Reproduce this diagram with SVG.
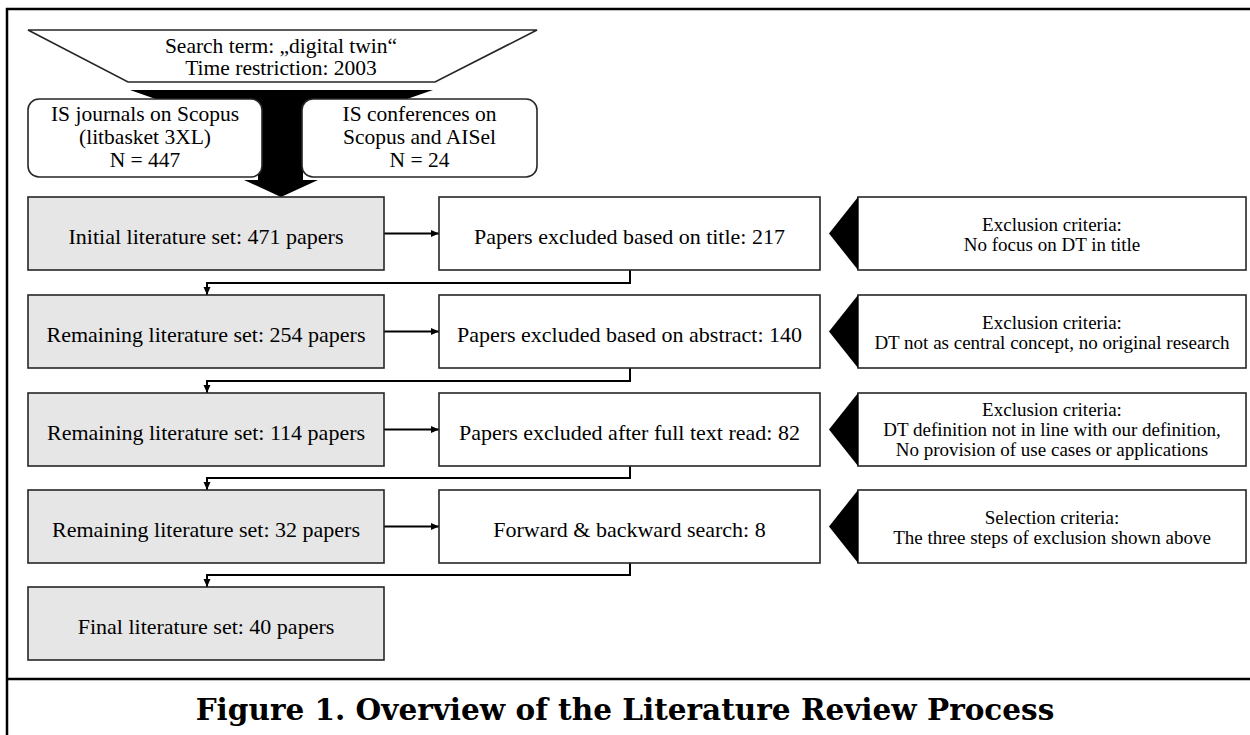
<svg xmlns="http://www.w3.org/2000/svg" width="1250" height="735" viewBox="0 0 1250 735">
<style>
  text { font-family: "Liberation Serif", "DejaVu Serif", serif; fill: #000; }
  .main { font-size: 22px; text-anchor: middle; }
  .top { font-size: 21.5px; text-anchor: middle; }
  .crit { font-size: 19px; text-anchor: middle; }
  .cap { font-family: "DejaVu Serif", "Liberation Serif", serif; font-size: 29.5px; font-weight: bold; text-anchor: middle; }
  .grey { fill: #e6e6e6; stroke: #262626; stroke-width: 1.6; }
  .white { fill: #fff; stroke: #262626; stroke-width: 1.6; }
  .conn { fill: none; stroke: #000; stroke-width: 2; }
  .frame { fill: none; stroke: #000; stroke-width: 2.5; }
</style>
<defs>
  <marker id="ah" markerWidth="8" markerHeight="8" refX="8" refY="4" orient="auto" markerUnits="userSpaceOnUse">
    <path d="M0,0.5 L8,4 L0,7.5 Z" fill="#000"/>
  </marker>
</defs>
<rect x="0" y="0" width="1250" height="735" fill="#fff"/>
<g id="frame">
  <path class="frame" d="M7,735 L7,9 L1250,9"/>
  <path class="frame" d="M7,679 L1250,679"/>
</g>

<g id="funnel">
  <polygon points="130,90 433,90 303,135 303,180 318,180 281,197 244,180 258,180 258,135" fill="#000"/>
</g>
<g id="search">
  <polygon points="28,30 537,30 435,82 128,82" fill="#fff" stroke="#262626" stroke-width="1.6"/>
  <text class="top" x="281" y="53">Search term: „digital twin“</text>
  <text class="top" x="281" y="75">Time restriction: 2003</text>
</g>
<g id="journals">
  <rect x="28" y="99" width="234" height="78" rx="11" ry="11" class="white"/>
  <text class="top" x="145" y="121">IS journals on Scopus</text>
  <text class="top" x="145" y="144">(litbasket 3XL)</text>
  <text class="top" x="145" y="167">N = 447</text>
</g>
<g id="conferences">
  <rect x="302" y="99" width="235" height="78" rx="11" ry="11" class="white"/>
  <text class="top" x="419.5" y="121">IS conferences on</text>
  <text class="top" x="419.5" y="144">Scopus and AISel</text>
  <text class="top" x="419.5" y="167">N = 24</text>
</g>

<g id="connectors">
  <line class="conn" x1="384" y1="233.5" x2="439" y2="233.5" marker-end="url(#ah)"/>
  <line class="conn" x1="384" y1="331.5" x2="439" y2="331.5" marker-end="url(#ah)"/>
  <line class="conn" x1="384" y1="429.5" x2="439" y2="429.5" marker-end="url(#ah)"/>
  <line class="conn" x1="384" y1="526.5" x2="439" y2="526.5" marker-end="url(#ah)"/>
  <polyline class="conn" points="630,270 630,283 207,283 207,295" marker-end="url(#ah)"/>
  <polyline class="conn" points="630,368 630,381 207,381 207,393" marker-end="url(#ah)"/>
  <polyline class="conn" points="630,466 630,478 207,478 207,490" marker-end="url(#ah)"/>
  <polyline class="conn" points="630,563 630,575 207,575 207,587" marker-end="url(#ah)"/>
</g>

<g id="initial">
  <rect x="28" y="197" width="356" height="73" class="grey"/>
  <text class="main" x="206" y="244">Initial literature set: 471 papers</text>
</g>
<g id="excl-title">
  <rect x="439" y="197" width="381" height="73" class="white"/>
  <text class="main" x="629.5" y="244">Papers excluded based on title: 217</text>
</g>
<g id="crit-title">
  <rect x="858" y="197" width="388" height="73" class="white"/>
  <polygon points="858,197 829,233.5 858,270" fill="#000"/>
  <text class="crit" x="1052" y="231">Exclusion criteria:</text>
  <text class="crit" x="1052" y="251">No focus on DT in title</text>
</g>

<g id="remaining254">
  <rect x="28" y="295" width="356" height="73" class="grey"/>
  <text class="main" x="206" y="342">Remaining literature set: 254 papers</text>
</g>
<g id="excl-abstract">
  <rect x="439" y="295" width="381" height="73" class="white"/>
  <text class="main" x="629.5" y="342">Papers excluded based on abstract: 140</text>
</g>
<g id="crit-abstract">
  <rect x="858" y="295" width="388" height="73" class="white"/>
  <polygon points="858,295 829,331.5 858,368" fill="#000"/>
  <text class="crit" x="1052" y="329">Exclusion criteria:</text>
  <text class="crit" x="1052" y="349">DT not as central concept, no original research</text>
</g>

<g id="remaining114">
  <rect x="28" y="393" width="356" height="73" class="grey"/>
  <text class="main" x="206" y="440">Remaining literature set: 114 papers</text>
</g>
<g id="excl-fulltext">
  <rect x="439" y="393" width="381" height="73" class="white"/>
  <text class="main" x="629.5" y="440">Papers excluded after full text read: 82</text>
</g>
<g id="crit-fulltext">
  <rect x="858" y="393" width="388" height="73" class="white"/>
  <polygon points="858,393 829,429.5 858,466" fill="#000"/>
  <text class="crit" x="1052" y="416">Exclusion criteria:</text>
  <text class="crit" x="1052" y="436">DT definition not in line with our definition,</text>
  <text class="crit" x="1052" y="456">No provision of use cases or applications</text>
</g>

<g id="remaining32">
  <rect x="28" y="490" width="356" height="73" class="grey"/>
  <text class="main" x="206" y="537">Remaining literature set: 32 papers</text>
</g>
<g id="forward-backward">
  <rect x="439" y="490" width="381" height="73" class="white"/>
  <text class="main" x="629.5" y="537">Forward &amp; backward search: 8</text>
</g>
<g id="crit-selection">
  <rect x="858" y="490" width="388" height="73" class="white"/>
  <polygon points="858,490 829,526.5 858,563" fill="#000"/>
  <text class="crit" x="1052" y="524">Selection criteria:</text>
  <text class="crit" x="1052" y="544">The three steps of exclusion shown above</text>
</g>

<g id="final">
  <rect x="28" y="587" width="356" height="73" class="grey"/>
  <text class="main" x="206" y="634">Final literature set: 40 papers</text>
</g>

<text class="cap" x="625" y="720">Figure 1. Overview of the Literature Review Process</text>
</svg>
